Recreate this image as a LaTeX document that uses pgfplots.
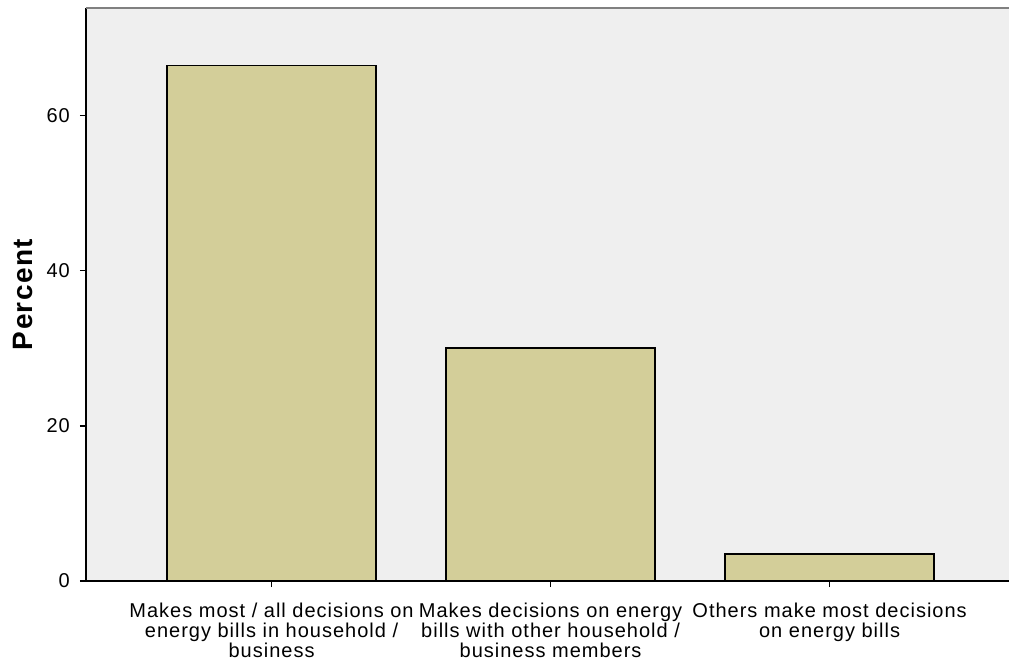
\documentclass[border=0pt]{standalone}
\usepackage{pgfplots}
\pgfplotsset{compat=1.18}
\usepackage{fontspec}
\setmainfont[LetterSpace=5]{Liberation Sans}
\definecolor{barfill}{RGB}{211,206,153}
\definecolor{bgfill}{RGB}{239,239,239}
\begin{document}
\begin{tikzpicture}
\begin{axis}[
  name=ax,
  scale only axis,
  width=923pt, height=573pt,
  xmin=-0.665, xmax=2.643,
  ymin=0, ymax=73.9,
  axis background/.style={fill=bgfill},
  axis x line*=bottom, axis y line*=left,
  axis line style={black, line width=1.3pt, -},
  ybar, bar width=209pt,
  xtick={0,1,2},
  xticklabels={{Makes most / all decisions on\\energy bills in household /\\business},
               {Makes decisions on energy\\bills with other household /\\business members},
               {Others make most decisions\\on energy bills}},
  xticklabel style={align=center, font=\fontsize{20}{20}\selectfont, inner sep=0pt, yshift=-16pt},
  ytick={0,20,40,60},
  yticklabel style={font=\fontsize{20}{20}\selectfont, inner sep=0pt, xshift=-10pt},
  /pgf/number format/assume math mode=true,
  tick align=outside,
  major tick length=6pt,
  tick style={black, line width=1.2pt},
  ylabel={\bfseries Percent},
  ylabel style={font=\fontsize{28}{30}\selectfont, at={(rel axis cs:0,0.5)}, anchor=south, yshift=53pt, inner sep=0pt},
  clip=false,
]
\addplot[fill=barfill, draw=black, line width=1.3pt] coordinates {(0,66.45) (1,30.06) (2,3.5)};
\draw[gray, line width=1.5pt] (rel axis cs:0,1) -- (rel axis cs:1,1);
\end{axis}
\pgfresetboundingbox
\path ([shift={(-86pt,-83pt)}]ax.south west) rectangle ([shift={(0pt,8pt)}]ax.north east);
\end{tikzpicture}
\end{document}
